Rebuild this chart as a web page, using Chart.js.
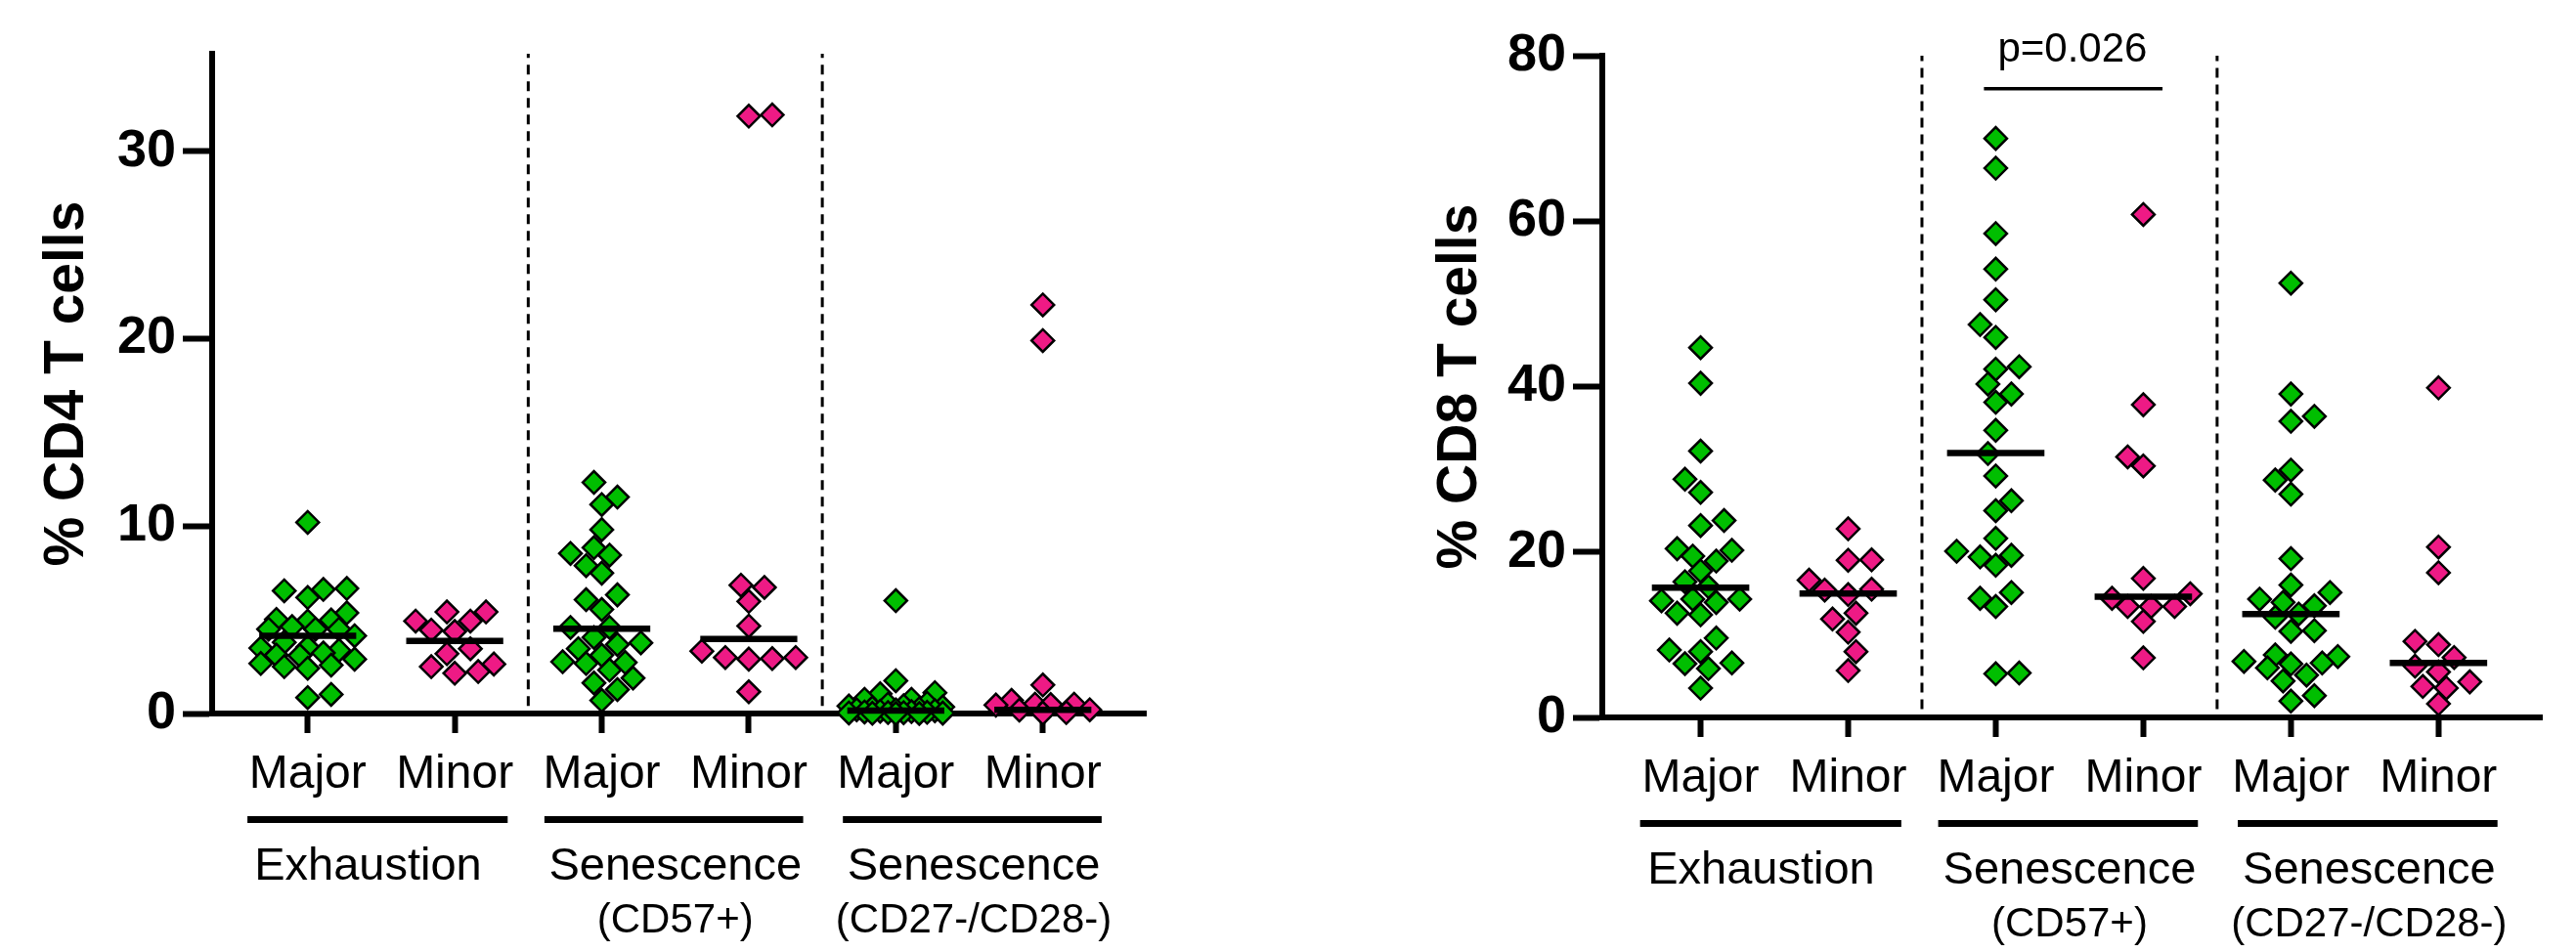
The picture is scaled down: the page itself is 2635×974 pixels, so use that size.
<!DOCTYPE html>
<html lang="en">
<head>
<meta charset="UTF-8">
<title>CD4 / CD8 T cells - Major vs Minor</title>
<script src="https://cdn.jsdelivr.net/npm/chart.js"></script>
<style>
    body { margin: 0; background: #fff; width: 2635px; height: 974px; overflow: hidden; position: relative; }
    canvas { position: absolute; top: 0; }
    #cd4Chart { left: 0; }
    #cd8Chart { left: 1290px; }
</style>
</head>
<body>
<canvas id="cd4Chart" width="1260" height="974"></canvas>
<canvas id="cd8Chart" width="1345" height="974"></canvas>

<script>
// ---- categories / groups ----
const catLabels = ['Major', 'Minor', 'Major', 'Minor', 'Major', 'Minor'];
const groupNames = ['Exhaustion', 'Senescence', 'Senescence'];
const groupSubs = ['', '(CD57+)', '(CD27-/CD28-)'];
const groupSpanStart = [-0.41, 1.61, 3.64];
const groupSpanEnd = [1.36, 3.37, 5.40];
const groupLabelAt = [0.41, 2.5, 4.53];
const dividerAt = [1.5, 3.5];

// ---- % CD4 T cells ----
const cd4ExhMajor = [10.2, 6.67, 6.62, 6.55, 6.19, 5.37, 5.02, 4.99, 4.93, 4.64, 4.5, 4.5, 4.5, 4.15,
    3.8, 3.54, 3.49, 3.37, 3.23, 3.11, 3.09, 2.9, 2.67, 2.58, 2.5, 2.41, 1.02, 0.85];
const cd4ExhMinor = [5.42, 5.42, 4.93, 4.93, 4.45, 4.38, 3.46, 3.19, 2.64, 2.5, 2.24, 2.15];
const cd4SenMajor = [12.33, 11.55, 11.15, 9.81, 8.85, 8.54, 8.45, 7.89, 7.49, 6.33, 6.07, 5.55, 4.59, 4.59,
    4.06, 3.77, 3.68, 3.46, 3.11, 2.76, 2.72, 2.67, 2.32, 1.89, 1.63, 1.28, 0.70];
const cd4SenMinor = [31.94, 31.87, 6.85, 6.73, 5.98, 4.67, 3.33, 2.99, 2.99, 2.93, 2.90, 1.16];
const cd4LateMajor = [6.02, 1.75, 1.11, 1.05, 0.76, 0.76, 0.55, 0.5, 0.41, 0.4, 0.35, 0.3, 0.25, 0.2,
    0.2, 0.15, 0.12, 0.1, 0.08, 0.06, 0.05, 0.04, 0.03, 0.02, 0.01, 0.0, 0.0];
const cd4LateMinor = [21.8, 19.9, 1.52, 0.7, 0.5, 0.5, 0.48, 0.45, 0.2, 0.18, 0.05, 0.02];
const cd4Medians = [4.15, 3.87, 4.52, 3.98, 0.15, 0.2];
const cd4Ticks = [0, 10, 20, 30];

// ---- % CD8 T cells ----
const cd8ExhMajor = [44.7, 40.4, 32.2, 28.8, 27.2, 23.8, 23.2, 20.4, 20.2, 19.5, 18.9, 17.7, 16.4, 15.8,
    14.3, 14.3, 14.1, 13.9, 12.6, 12.4, 9.6, 8.15, 7.95, 6.58, 6.5, 5.9, 3.54];
const cd8ExhMinor = [22.8, 19.05, 19.0, 16.6, 15.5, 15.4, 14.85, 12.6, 11.9, 10.3, 7.95, 5.67];
const cd8SenMajor = [70.0, 66.4, 58.5, 54.2, 50.5, 47.5, 45.95, 42.4, 42.1, 40.3, 39.1, 38.1, 34.7, 31.9,
    29.2, 26.2, 25.0, 21.65, 20.1, 19.6, 19.4, 18.4, 15.1, 14.4, 13.4, 5.37, 5.28];
const cd8SenMinor = [60.8, 37.8, 31.5, 30.4, 16.8, 14.95, 14.4, 13.4, 13.4, 13.4, 11.6, 7.2];
const cd8LateMajor = [52.5, 39.1, 36.4, 35.8, 29.9, 28.7, 27.0, 19.2, 16.0, 15.1, 14.3, 13.9, 13.5, 12.5,
    12.1, 10.5, 10.4, 7.56, 7.36, 6.77, 6.58, 6.46, 5.99, 5.12, 4.41, 2.64, 1.97];
const cd8LateMinor = [39.85, 20.6, 17.5, 9.2, 8.8, 7.25, 6.2, 5.5, 4.3, 3.75, 3.55, 1.65];
const cd8Medians = [15.7, 14.97, 31.95, 14.6, 12.5, 6.58];
const cd8Ticks = [0, 20, 40, 60, 80];

// significance bar (CD8, senescence CD57+)
const pText = 'p=0.026';
const pLineX = [1.92, 3.13];
const pLineY = 76;
const pTextX = 2.52;
const pTextY = 79.3;

const FONT = '"Liberation Sans", Arial, Helvetica, sans-serif';
const GREEN = '#00BE00';
const PINK = '#EE1A85';
Chart.defaults.font.family = FONT;
Chart.defaults.color = '#000';

// bracket bars + group names under the category labels
const groupAxisPlugin = {
    id: 'groupAxis',
    afterDraw(chart) {
        const { ctx, chartArea, scales: { x } } = chart;
        const base = chartArea.bottom;
        ctx.save();
        ctx.fillStyle = '#000';
        ctx.textAlign = 'center';
        ctx.textBaseline = 'alphabetic';
        groupNames.forEach((name, i) => {
            const x0 = x.getPixelForValue(groupSpanStart[i]);
            const x1 = x.getPixelForValue(groupSpanEnd[i]);
            ctx.fillRect(x0, base + 105, x1 - x0, 7);
            const cx = x.getPixelForValue(groupLabelAt[i]);
            ctx.font = '47px ' + FONT;
            ctx.fillText(name, cx, base + 170);
            if (groupSubs[i]) {
                ctx.font = '42px ' + FONT;
                ctx.fillText(groupSubs[i], cx, base + 224);
            }
        });
        ctx.restore();
    }
};

const pValuePlugin = {
    id: 'pValue',
    afterDraw(chart) {
        if (!chart.options.plugins.pValue || !chart.options.plugins.pValue.show) return;
        const { ctx, scales: { x, y } } = chart;
        ctx.save();
        ctx.fillStyle = '#000';
        ctx.font = '42px ' + FONT;
        ctx.textAlign = 'center';
        ctx.textBaseline = 'alphabetic';
        ctx.fillText(pText, x.getPixelForValue(pTextX), y.getPixelForValue(pTextY));
        ctx.restore();
    }
};

// spread points of one group sideways so the diamonds do not pile up
function swarmOffsets(values, ys, pxPerCat) {
    const minGap = 23, step = 8, maxPx = 48;
    const order = values.map((v, i) => i).sort((a, b) => values[a] - values[b]);
    const placed = [];
    const off = new Array(values.length).fill(0);
    let leftCount = 0, rightCount = 0;
    order.forEach(i => {
        const py = ys.getPixelForValue(values[i]);
        const gapAt = dx => {
            let g = Infinity;
            placed.forEach(p => { g = Math.min(g, Math.abs(p.x - dx) + Math.abs(p.y - py)); });
            return g;
        };
        let chosen = null, best = 0, bestGap = -1;
        for (let k = 0; k * step <= maxPx && chosen === null; k++) {
            let cands = k === 0 ? [0] : (leftCount < rightCount ? [-k * step, k * step] : [k * step, -k * step]);
            let ok = cands.filter(dx => gapAt(dx) >= minGap);
            if (ok.length) { chosen = ok[0]; break; }
            cands.forEach(dx => { const g = gapAt(dx); if (g > bestGap) { bestGap = g; best = dx; } });
        }
        if (chosen === null) chosen = best;
        if (chosen < 0) leftCount++; else if (chosen > 0) rightCount++;
        placed.push({ x: chosen, y: py });
        off[i] = chosen / pxPerCat;
    });
    return off;
}

function buildChart(id, opt) {
    const datasets = [];
    // medians first so they are drawn over the points
    opt.medians.forEach((m, i) => datasets.push({
        type: 'line', data: [{ x: i - 0.33, y: m }, { x: i + 0.33, y: m }],
        borderColor: '#000', borderWidth: 6.5, pointRadius: 0, borderCapStyle: 'butt', clip: false
    }));
    if (opt.pLine) {
        datasets.push({
            type: 'line', data: [{ x: pLineX[0], y: pLineY }, { x: pLineX[1], y: pLineY }],
            borderColor: '#000', borderWidth: 3.5, pointRadius: 0, clip: false
        });
    }
    dividerAt.forEach(d => datasets.push({
        type: 'line', data: [{ x: d, y: opt.divLow }, { x: d, y: opt.yMax }],
        borderColor: '#000', borderWidth: 3, borderDash: [10, 7], pointRadius: 0, clip: false
    }));
    const firstGroup = datasets.length;
    opt.groups.forEach((vals, i) => datasets.push({
        type: 'scatter', data: vals.map(v => ({ x: i, y: v })),
        pointStyle: 'rectRot', pointRadius: 11.5,
        pointBackgroundColor: i % 2 ? PINK : GREEN,
        pointBorderColor: '#000', pointBorderWidth: 2.5, clip: false
    }));

    const chart = new Chart(document.getElementById(id), {
        type: 'scatter',
        data: { datasets },
        plugins: [groupAxisPlugin, pValuePlugin],
        options: {
            responsive: false,
            animation: false,
            events: [],
            layout: { padding: { top: opt.padTop, right: opt.padRight, left: 0, bottom: 0 } },
            plugins: { legend: { display: false }, tooltip: { enabled: false }, pValue: { show: !!opt.pLine } },
            scales: {
                x: {
                    type: 'linear', min: opt.xMin, max: 5.7,
                    afterFit: s => { s.height = opt.xAxisHeight; },
                    afterBuildTicks: s => { s.ticks = catLabels.map((_, i) => ({ value: i })); },
                    ticks: {
                        callback: v => catLabels[v], font: { size: 48 }, color: '#000',
                        padding: 14, maxRotation: 0, autoSkip: false
                    },
                    grid: { display: true, drawOnChartArea: false, tickLength: 20, tickWidth: 6, tickColor: '#000' },
                    border: { display: true, width: 6, color: '#000' }
                },
                y: {
                    type: 'linear', min: 0, max: opt.yMax,
                    afterFit: s => { s.width = opt.yAxisWidth; },
                    afterBuildTicks: s => { s.ticks = opt.yTicks.map(v => ({ value: v })); },
                    ticks: { font: { size: 54, weight: 'bold' }, color: '#000', padding: 7 },
                    grid: { display: true, drawOnChartArea: false, tickLength: 30, tickWidth: 6, tickColor: '#000' },
                    border: { display: true, width: 6, color: '#000' },
                    title: {
                        display: true, text: opt.yTitle, color: '#000',
                        font: { size: 57, weight: 'bold' }, padding: { top: opt.titlePad, bottom: 0 }
                    }
                }
            }
        }
    });

    // lay the points out as a swarm, using the chart's own scales
    const xs = chart.scales.x, ys = chart.scales.y;
    const pxPerCat = xs.getPixelForValue(1) - xs.getPixelForValue(0);
    opt.groups.forEach((vals, i) => {
        const off = swarmOffsets(vals, ys, pxPerCat);
        chart.data.datasets[firstGroup + i].data = vals.map((v, j) => ({ x: i + off[j], y: v }));
    });
    chart.update('none');
    return chart;
}

buildChart('cd4Chart', {
    groups: [cd4ExhMajor, cd4ExhMinor, cd4SenMajor, cd4SenMinor, cd4LateMajor, cd4LateMinor],
    medians: cd4Medians, yTicks: cd4Ticks, yMax: 35.2, divLow: 0.4,
    yTitle: '% CD4 T cells', xMin: -0.65,
    padTop: 55, padRight: 88, yAxisWidth: 217, xAxisHeight: 244, titlePad: 35
});

buildChart('cd8Chart', {
    groups: [cd8ExhMajor, cd8ExhMinor, cd8SenMajor, cd8SenMinor, cd8LateMajor, cd8LateMinor],
    medians: cd8Medians, yTicks: cd8Ticks, yMax: 80, divLow: 1.0,
    yTitle: '% CD8 T cells', xMin: -0.666, pLine: true,
    padTop: 57, padRight: 35, yAxisWidth: 349, xAxisHeight: 240, titlePad: 170
});
</script>
</body>
</html>
